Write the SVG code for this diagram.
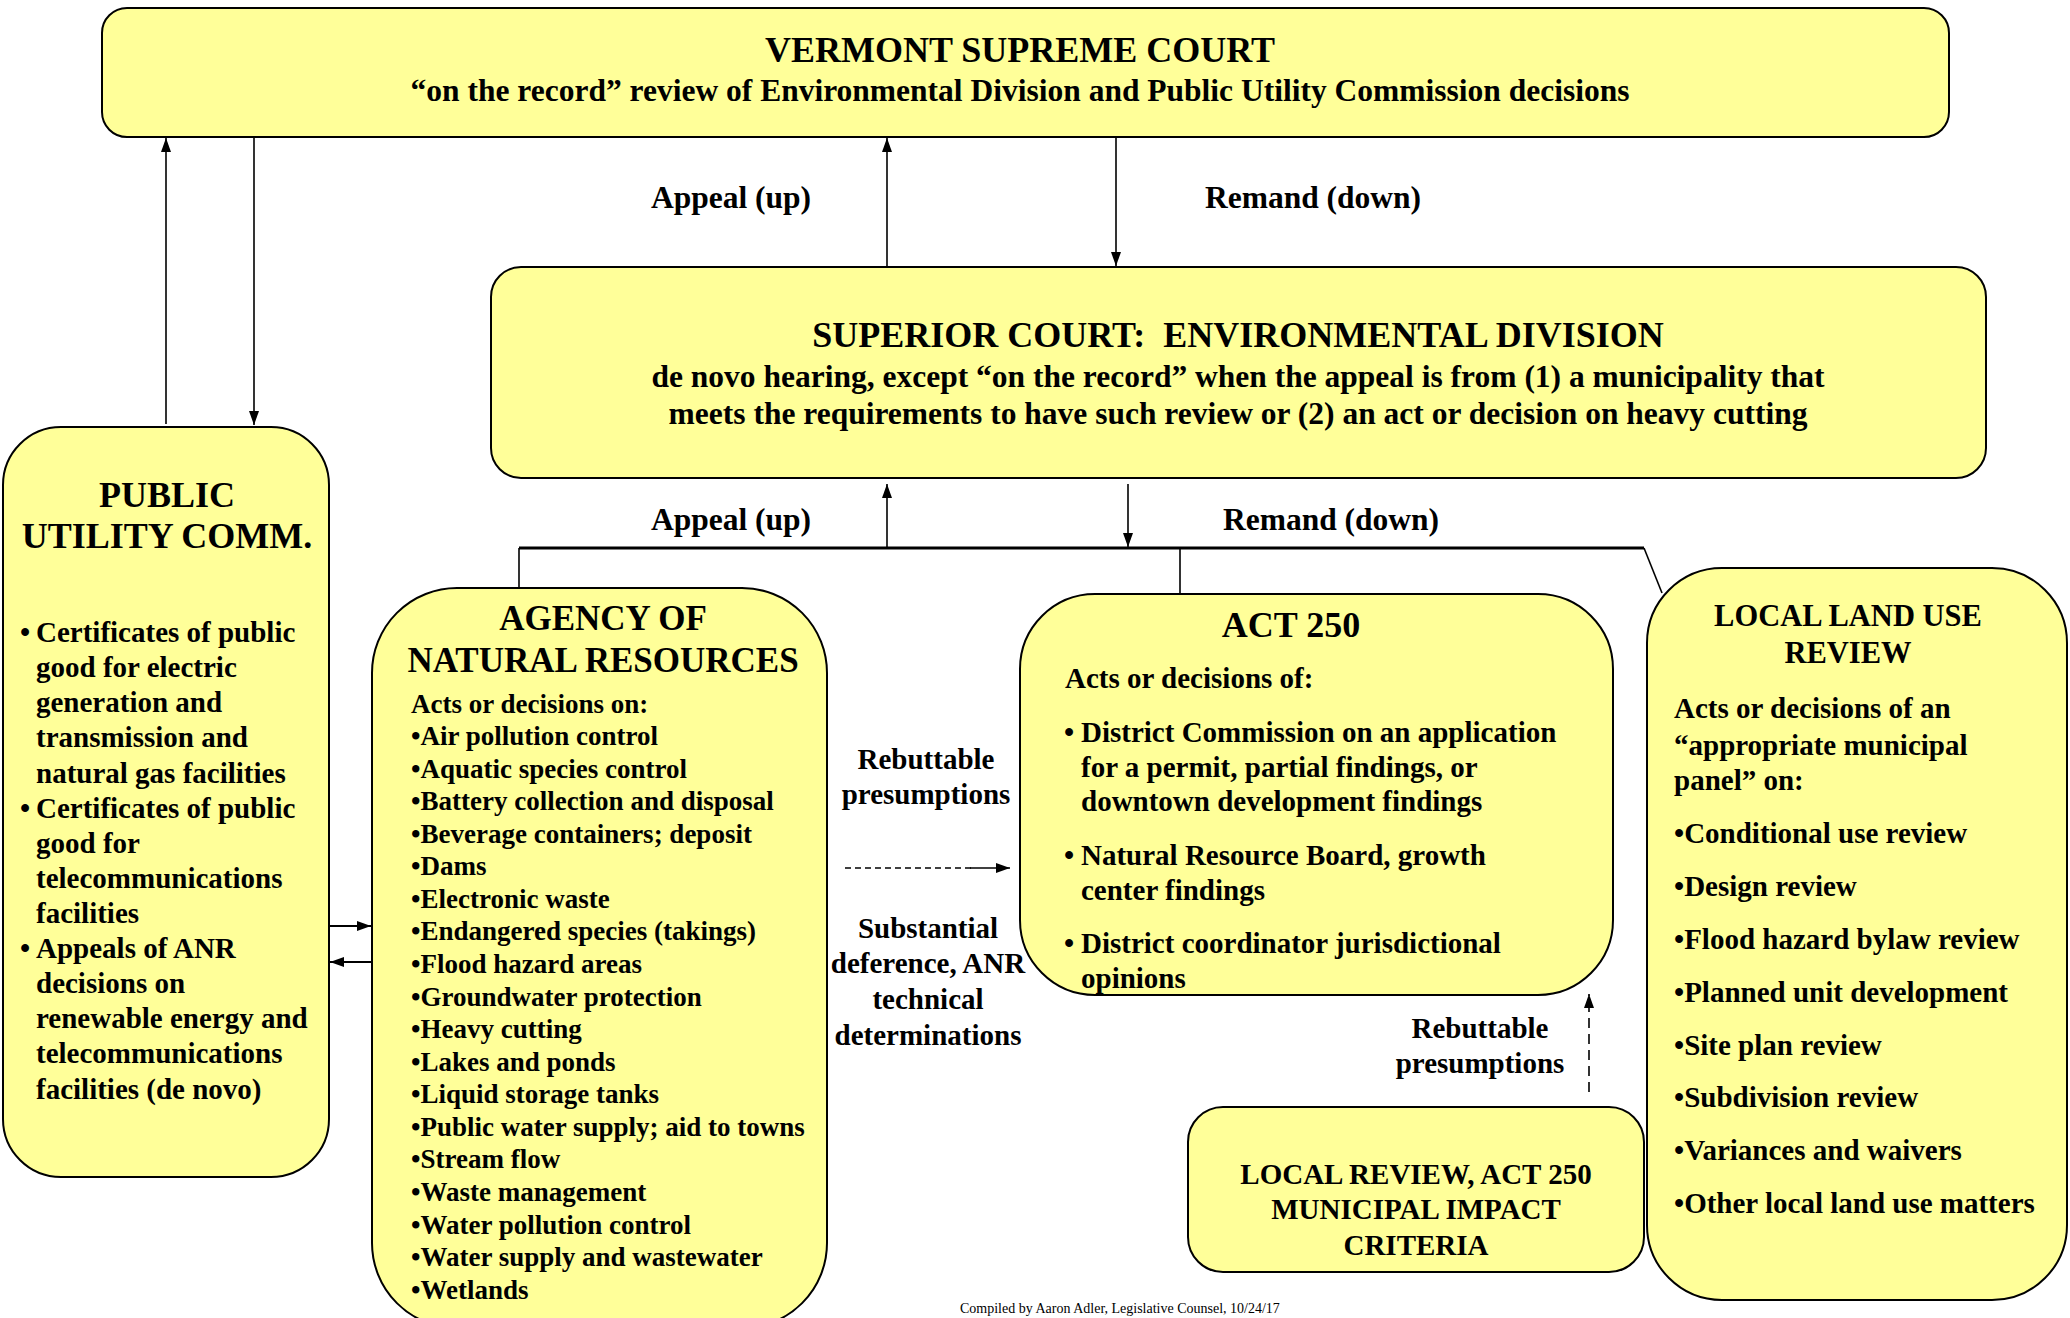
<svg xmlns="http://www.w3.org/2000/svg" width="2070" height="1318" viewBox="0 0 2070 1318">
<defs>
<style>
.box{fill:#FFFF99;stroke:#000;stroke-width:2}
text{font-family:"Liberation Serif","Times New Roman",serif;font-weight:bold;fill:#000}
.t36{font-size:36px}
.t35{font-size:35px}
.t31{font-size:31.5px}
.t30{font-size:30.5px}
.t29{font-size:29px}
.t27{font-size:27px}
.c{text-anchor:middle}
.ln{fill:none;stroke:#000;stroke-width:1.6}
.bus{fill:none;stroke:#000;stroke-width:3}
.foot{font-weight:normal;font-size:14px}
</style>
<marker id="ah" viewBox="0 0 14 10" refX="14" refY="5" markerWidth="14" markerHeight="10" markerUnits="userSpaceOnUse" orient="auto">
<path d="M0,0 L14,5 L0,10 z" fill="#000"/>
</marker>
</defs>
<rect width="2070" height="1318" fill="#fff"/>

<g id="connectors">
<line class="ln" x1="166" y1="424" x2="166" y2="138" marker-end="url(#ah)"/>
<line class="ln" x1="254" y1="137" x2="254" y2="425" marker-end="url(#ah)"/>
<line class="ln" x1="887" y1="267" x2="887" y2="138" marker-end="url(#ah)"/>
<line class="ln" x1="1116" y1="137" x2="1116" y2="266" marker-end="url(#ah)"/>
<line class="ln" x1="887" y1="548" x2="887" y2="484" marker-end="url(#ah)"/>
<line class="ln" x1="1128" y1="484" x2="1128" y2="547" marker-end="url(#ah)"/>
<polyline class="bus" points="519,548 1644,548"/>
<line class="ln" x1="1644" y1="548" x2="1662" y2="593"/>
<line class="ln" x1="519" y1="548" x2="519" y2="589"/>
<line class="ln" x1="1180" y1="548" x2="1180" y2="594"/>
<line class="ln" style="stroke-width:2.2" x1="329" y1="926" x2="371" y2="926" marker-end="url(#ah)"/>
<line class="ln" style="stroke-width:2.2" x1="372" y1="962" x2="330" y2="962" marker-end="url(#ah)"/>
<line class="ln" style="stroke-dasharray:6,4" x1="845" y1="868" x2="972" y2="868"/>
<line class="ln" x1="970" y1="868" x2="1010" y2="868" marker-end="url(#ah)"/>
<line class="ln" style="stroke-dasharray:10,6" x1="1589" y1="1092" x2="1589" y2="994" marker-end="url(#ah)"/>
<text class="t31 c" x="731" y="208">Appeal (up)</text>
<text class="t31 c" x="1313" y="208">Remand (down)</text>
<text class="t31 c" x="731" y="530">Appeal (up)</text>
<text class="t31 c" x="1331" y="530">Remand (down)</text>
<text class="t29 c" x="926" y="769">Rebuttable</text>
<text class="t29 c" x="926" y="804">presumptions</text>
<text class="t29 c" x="928" y="938">Substantial</text>
<text class="t29 c" x="928" y="973">deference, ANR</text>
<text class="t29 c" x="928" y="1009">technical</text>
<text class="t29 c" x="928" y="1045">determinations</text>
<text class="t29 c" x="1480" y="1038">Rebuttable</text>
<text class="t29 c" x="1480" y="1073">presumptions</text>
</g>

<g id="supreme">
<rect class="box" x="102" y="8" width="1847" height="129" rx="25" ry="25"/>
<text class="t36 c" x="1020" y="62">VERMONT SUPREME COURT</text>
<text class="t31 c" x="1020" y="101">“on the record” review of Environmental Division and Public Utility Commission decisions</text>
</g>

<g id="superior">
<rect class="box" x="491" y="267" width="1495" height="211" rx="30" ry="30"/>
<text class="t36 c" x="1238" y="347" style="white-space:pre">SUPERIOR COURT:  ENVIRONMENTAL DIVISION</text>
<text class="t31 c" x="1238" y="387">de novo hearing, except “on the record” when the appeal is from (1) a municipality that</text>
<text class="t31 c" x="1238" y="424">meets the requirements to have such review or (2) an act or decision on heavy cutting</text>
</g>

<g id="puc">
<rect class="box" x="3" y="427" width="326" height="750" rx="58" ry="58"/>
<text class="t36 c" x="167" y="507">PUBLIC</text>
<text class="t36 c" x="167" y="548">UTILITY COMM.</text>
<text class="t29"><tspan x="20" y="642">•</tspan><tspan x="36" y="642">Certificates of public</tspan><tspan x="36" y="677">good for electric</tspan><tspan x="36" y="712">generation and</tspan><tspan x="36" y="747">transmission and</tspan><tspan x="36" y="783">natural gas facilities</tspan><tspan x="20" y="818">•</tspan><tspan x="36" y="818">Certificates of public</tspan><tspan x="36" y="853">good for</tspan><tspan x="36" y="888">telecommunications</tspan><tspan x="36" y="923">facilities</tspan><tspan x="20" y="958">•</tspan><tspan x="36" y="958">Appeals of ANR</tspan><tspan x="36" y="993">decisions on</tspan><tspan x="36" y="1028">renewable energy and</tspan><tspan x="36" y="1063">telecommunications</tspan><tspan x="36" y="1099">facilities (de novo)</tspan></text>
</g>

<g id="anr">
<rect class="box" x="372" y="588" width="455" height="740" rx="85" ry="85"/>
<text class="t35 c" x="603" y="630">AGENCY OF</text>
<text class="t35 c" x="603" y="672">NATURAL RESOURCES</text>
<text class="t27"><tspan x="411" y="713">Acts or decisions on:</tspan><tspan x="411" y="745">•Air pollution control</tspan><tspan x="411" y="778">•Aquatic species control</tspan><tspan x="411" y="810">•Battery collection and disposal</tspan><tspan x="411" y="843">•Beverage containers; deposit</tspan><tspan x="411" y="875">•Dams</tspan><tspan x="411" y="908">•Electronic waste</tspan><tspan x="411" y="940">•Endangered species (takings)</tspan><tspan x="411" y="973">•Flood hazard areas</tspan><tspan x="411" y="1006">•Groundwater protection</tspan><tspan x="411" y="1038">•Heavy cutting</tspan><tspan x="411" y="1071">•Lakes and ponds</tspan><tspan x="411" y="1103">•Liquid storage tanks</tspan><tspan x="411" y="1136">•Public water supply; aid to towns</tspan><tspan x="411" y="1168">•Stream flow</tspan><tspan x="411" y="1201">•Waste management</tspan><tspan x="411" y="1234">•Water pollution control</tspan><tspan x="411" y="1266">•Water supply and wastewater</tspan><tspan x="411" y="1299">•Wetlands</tspan></text>
</g>

<g id="act250">
<rect class="box" x="1020" y="594" width="593" height="401" rx="75" ry="75"/>
<text class="t36 c" x="1291" y="637">ACT 250</text>
<text class="t29"><tspan x="1065" y="688">Acts or decisions of:</tspan><tspan x="1064" y="742">•</tspan><tspan x="1081" y="742">District Commission on an application</tspan><tspan x="1081" y="777">for a permit, partial findings, or</tspan><tspan x="1081" y="811">downtown development findings</tspan><tspan x="1064" y="865">•</tspan><tspan x="1081" y="865">Natural Resource Board, growth</tspan><tspan x="1081" y="900">center findings</tspan><tspan x="1064" y="953">•</tspan><tspan x="1081" y="953">District coordinator jurisdictional</tspan><tspan x="1081" y="988">opinions</tspan></text>
</g>

<g id="local-land-use">
<rect class="box" x="1647" y="568" width="420" height="732" rx="75" ry="75"/>
<text class="t30 c" x="1848" y="626">LOCAL LAND USE</text>
<text class="t30 c" x="1848" y="663">REVIEW</text>
<text class="t29"><tspan x="1674" y="718">Acts or decisions of an</tspan><tspan x="1674" y="755">“appropriate municipal</tspan><tspan x="1674" y="790">panel” on:</tspan><tspan x="1674" y="843">•Conditional use review</tspan><tspan x="1674" y="896">•Design review</tspan><tspan x="1674" y="949">•Flood hazard bylaw review</tspan><tspan x="1674" y="1002">•Planned unit development</tspan><tspan x="1674" y="1055">•Site plan review</tspan><tspan x="1674" y="1107">•Subdivision review</tspan><tspan x="1674" y="1160">•Variances and waivers</tspan><tspan x="1674" y="1213">•Other local land use matters</tspan></text>
</g>

<g id="local-review">
<rect class="box" x="1188" y="1107" width="456" height="165" rx="35" ry="35"/>
<text class="t29 c" x="1416" y="1184">LOCAL REVIEW, ACT 250</text>
<text class="t29 c" x="1416" y="1219">MUNICIPAL IMPACT</text>
<text class="t29 c" x="1416" y="1255">CRITERIA</text>
</g>

<text class="foot" x="960" y="1313">Compiled by Aaron Adler, Legislative Counsel, 10/24/17</text>
</svg>
